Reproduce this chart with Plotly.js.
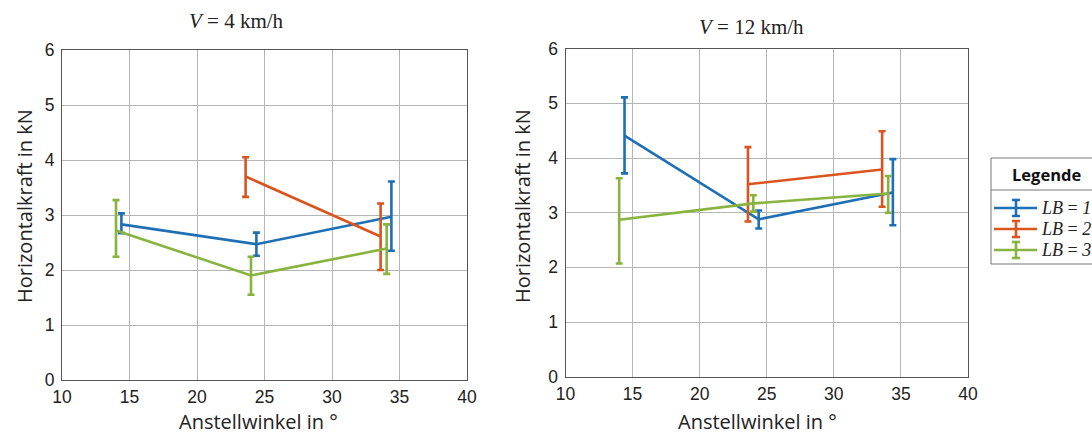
<!DOCTYPE html>
<html><head><meta charset="utf-8">
<script src="https://cdn.plot.ly/plotly-3.0.1.min.js"></script>
<style>html,body{margin:0;padding:0;background:#fff;}#chart{width:1092px;height:436px;}</style>
</head><body><div id="chart"></div>
<script>
// ---- data ----
const seriesNames = ["LB = 1", "LB = 2", "LB = 3"];
const colors = ["#1f6fb5", "#d9541e", "#88b33f"];
const panelTitles = ["V = 4 km/h", "V = 12 km/h"];

// V = 4 km/h
const v4_blue_x = [14.4, 24.4, 34.4];
const v4_blue_y = [2.83, 2.47, 2.97];
const v4_blue_hi = [3.03, 2.68, 3.61];
const v4_blue_lo = [2.67, 2.26, 2.35];
const v4_red_x = [23.6, 33.6];
const v4_red_y = [3.70, 2.61];
const v4_red_hi = [4.05, 3.21];
const v4_red_lo = [3.33, 2.00];
const v4_green_x = [14.0, 24.0, 34.05];
const v4_green_y = [2.72, 1.90, 2.39];
const v4_green_hi = [3.27, 2.24, 2.83];
const v4_green_lo = [2.24, 1.55, 1.93];

// V = 12 km/h
const v12_blue_x = [14.4, 24.4, 34.4];
const v12_blue_y = [4.41, 2.88, 3.37];
const v12_blue_hi = [5.11, 3.04, 3.98];
const v12_blue_lo = [3.72, 2.71, 2.77];
const v12_red_x = [23.6, 33.6];
const v12_red_y = [3.52, 3.79];
const v12_red_hi = [4.20, 4.49];
const v12_red_lo = [2.84, 3.11];
const v12_green_x = [14.0, 24.0, 34.05];
const v12_green_y = [2.87, 3.17, 3.35];
const v12_green_hi = [3.63, 3.32, 3.67];
const v12_green_lo = [2.07, 3.02, 3.00];

const xTicks = [10, 15, 20, 25, 30, 35, 40];
const yTicks = [0, 1, 2, 3, 4, 5, 6];

// ---- build ----
const W = 1092, H = 436;
const px = x => x / W;
const py = y => (H - y) / H;

function trace(x, y, hi, lo, ci, xa, ya) {
  return {
    x: x, y: y, type: "scatter", mode: "lines", xaxis: xa, yaxis: ya,
    line: {color: colors[ci], width: 2.6},
    error_y: {type: "data", symmetric: false,
      array: y.map((v, i) => hi[i] - v),
      arrayminus: y.map((v, i) => v - lo[i]),
      color: colors[ci], thickness: 2.6, width: 3.5},
    showlegend: false, hoverinfo: "skip"
  };
}

const data = [
  trace(v4_blue_x, v4_blue_y, v4_blue_hi, v4_blue_lo, 0, "x", "y"),
  trace(v4_red_x, v4_red_y, v4_red_hi, v4_red_lo, 1, "x", "y"),
  trace(v4_green_x, v4_green_y, v4_green_hi, v4_green_lo, 2, "x", "y"),
  trace(v12_blue_x, v12_blue_y, v12_blue_hi, v12_blue_lo, 0, "x2", "y2"),
  trace(v12_red_x, v12_red_y, v12_red_hi, v12_red_lo, 1, "x2", "y2"),
  trace(v12_green_x, v12_green_y, v12_green_hi, v12_green_lo, 2, "x2", "y2")
];

const tickFont = {family: "Liberation Sans, Arial, sans-serif", size: 17.5, color: "#222"};
function xax(d) {
  return {domain: d, range: [10, 40], tickvals: xTicks, ticktext: xTicks.map(String),
    showgrid: true, gridcolor: "#b5b5b5", gridwidth: 1, zeroline: false,
    showline: true, linecolor: "#555", linewidth: 1, mirror: true,
    ticks: "", tickfont: tickFont, fixedrange: true, ticklabelstandoff: 1};
}
function yax(d, anchor) {
  return {domain: d, range: [0, 6], tickvals: yTicks, ticktext: yTicks.map(String), anchor: anchor,
    showgrid: true, gridcolor: "#b5b5b5", gridwidth: 1, zeroline: false,
    showline: true, linecolor: "#555", linewidth: 1, mirror: true,
    ticks: "", tickfont: tickFont, fixedrange: true, ticklabelstandoff: 3};
}

const titleFont = {family: "Liberation Serif, Times New Roman, serif", size: 21, color: "#222"};
const axTitleFontX = {family: "Open Sans, Liberation Sans, Arial", size: 20, color: "#222"};
const axTitleFontY = {family: "Open Sans, Liberation Sans, Arial", size: 20, color: "#222"};

const annotations = [
  {text: "<i>V</i> = 4 km/h", x: px(236), y: py(21), xref: "paper", yref: "paper", showarrow: false, font: titleFont, xanchor: "center", yanchor: "middle"},
  {text: "<i>V</i> = 12 km/h", x: px(751), y: py(27), xref: "paper", yref: "paper", showarrow: false, font: titleFont, xanchor: "center", yanchor: "middle"},
  {text: "Anstellwinkel in °", x: px(258), y: py(436), xref: "paper", yref: "paper", showarrow: false, font: axTitleFontX, xanchor: "center", yanchor: "bottom", borderpad: 0},
  {text: "Anstellwinkel in °", x: px(757), y: py(436), xref: "paper", yref: "paper", showarrow: false, font: axTitleFontX, xanchor: "center", yanchor: "bottom", borderpad: 0},
  {text: "Horizontalkraft in kN", x: px(24), y: py(206), xref: "paper", yref: "paper", showarrow: false, font: axTitleFontY, textangle: -90, xanchor: "center", yanchor: "middle"},
  {text: "Horizontalkraft in kN", x: px(522), y: py(206), xref: "paper", yref: "paper", showarrow: false, font: axTitleFontY, textangle: -90, xanchor: "center", yanchor: "middle"},
  {text: "<b>Legende</b>", x: px(1046), y: py(174), xref: "paper", yref: "paper", showarrow: false, font: {family: "Open Sans, Liberation Sans, Arial", size: 16.5, color: "#111"}, xanchor: "center", yanchor: "middle"}
];

const shapes = [
  {type: "rect", xref: "paper", yref: "paper", x0: px(991), x1: px(1100), y0: py(158), y1: py(264), line: {color: "#777", width: 1}, fillcolor: "rgba(0,0,0,0)"},
  {type: "line", xref: "paper", yref: "paper", x0: px(991), x1: px(1100), y0: py(190), y1: py(190), line: {color: "#777", width: 1}}
];
const legY = [208, 229, 250];
seriesNames.forEach((n, i) => {
  const yy = legY[i];
  shapes.push({type: "line", xref: "paper", yref: "paper", x0: px(994), x1: px(1037), y0: py(yy), y1: py(yy), line: {color: colors[i], width: 2.6}});
  shapes.push({type: "line", xref: "paper", yref: "paper", x0: px(1016), x1: px(1016), y0: py(yy - 8), y1: py(yy + 8), line: {color: colors[i], width: 2.6}});
  shapes.push({type: "line", xref: "paper", yref: "paper", x0: px(1012), x1: px(1020), y0: py(yy - 8), y1: py(yy - 8), line: {color: colors[i], width: 2.6}});
  shapes.push({type: "line", xref: "paper", yref: "paper", x0: px(1012), x1: px(1020), y0: py(yy + 8), y1: py(yy + 8), line: {color: colors[i], width: 2.6}});
  annotations.push({text: "<i>" + n.replace("=", "</i>=<i>") + "</i>", x: px(1040), y: py(yy), xref: "paper", yref: "paper", showarrow: false, xanchor: "left", yanchor: "middle", borderpad: 0,
    font: {family: "Liberation Serif, Times New Roman, serif", size: 18, color: "#222"}});
});

const layout = {
  width: W, height: H, margin: {l: 0, r: 0, t: 0, b: 0},
  paper_bgcolor: "#fff", plot_bgcolor: "#fff",
  showlegend: false,
  xaxis: xax([px(62), px(467)]),
  yaxis: yax([py(380), py(50)], "x"),
  xaxis2: Object.assign(xax([px(565.5), px(968)]), {anchor: "y2"}),
  yaxis2: yax([py(376.7), py(48.7)], "x2"),
  annotations: annotations,
  shapes: shapes
};

Plotly.newPlot("chart", data, layout, {displayModeBar: false, staticPlot: true});
</script>
</body></html>
